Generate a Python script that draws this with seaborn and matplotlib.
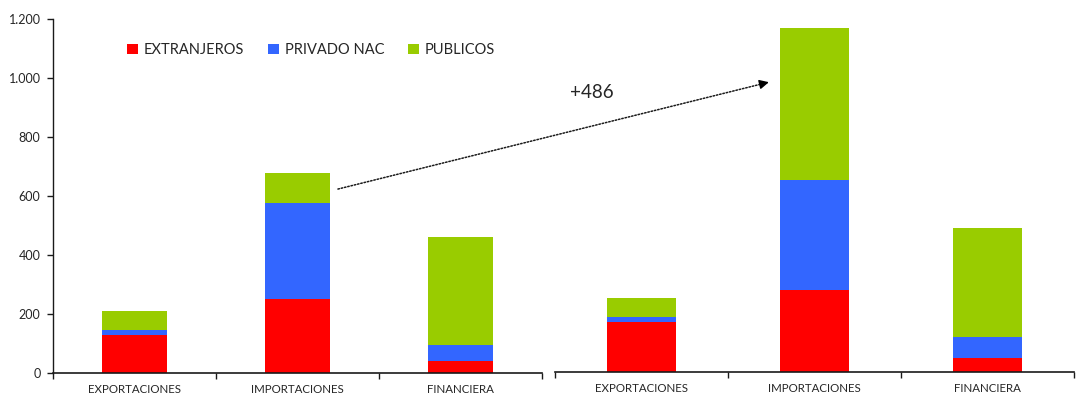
import matplotlib
matplotlib.use("Agg")
import matplotlib.pyplot as plt
from matplotlib.patches import Patch, ConnectionPatch
from matplotlib.ticker import FuncFormatter, FixedLocator
import numpy as np
import pandas as pd
import seaborn as sns

# Categories, series and colours
categorias = ["EXPORTACIONES", "IMPORTACIONES", "FINANCIERA"]
series = ["EXTRANJEROS", "PRIVADO NAC", "PUBLICOS"]
colores = ["#FF0000", "#3366FF", "#99CC00"]

# First period (left panel)
antes_extranjeros = [130, 252, 42]
antes_privado = [17, 325, 54]
antes_publicos = [64, 101, 366]

# Second period (right panel)
despues_extranjeros = [170, 278, 48]
despues_privado = [16, 372, 71]
despues_publicos = [65, 514, 369]

y_ticks = [0, 200, 400, 600, 800, 1000, 1200]
etiqueta_flecha = "+486"

sns.set_theme(style="white")
plt.rcParams["font.family"] = ["Lato", "DejaVu Sans"]

TXT = "#262626"

fig = plt.figure(figsize=(10.77, 3.99), dpi=100)
W, H = 1077, 399
ax1 = fig.add_axes([53 / W, (H - 373.3) / H, (542 - 53) / W, 354.3 / H])
ax2 = fig.add_axes([555 / W, (H - 371.7) / H, (1074 - 555) / W, 354.3 / H])


def apilar(ax, capas):
    acumulado = np.cumsum(np.array(capas, dtype=float), axis=0)
    for i in reversed(range(len(series))):
        df = pd.DataFrame({"categoria": categorias, "valor": acumulado[i]})
        sns.barplot(data=df, x="categoria", y="valor", order=categorias,
                    color=colores[i], saturation=1, width=0.4,
                    errorbar=None, ax=ax, linewidth=0)


apilar(ax1, [antes_extranjeros, antes_privado, antes_publicos])
apilar(ax2, [despues_extranjeros, despues_privado, despues_publicos])

for ax in (ax1, ax2):
    ax.set_xlim(-0.5, 2.5)
    ax.set_ylim(0, 1200)
    ax.set_xlabel("")
    ax.set_ylabel("")
    for s in ("top", "right"):
        ax.spines[s].set_visible(False)
    ax.spines["bottom"].set_color("#1a1a1a")
    ax.spines["bottom"].set_linewidth(1.2)
    ax.xaxis.set_minor_locator(FixedLocator([-0.5, 0.5, 1.5, 2.5]))
    ax.tick_params(axis="x", which="major", length=0, pad=8,
                   labelsize=8.3, labelcolor=TXT)
    ax.tick_params(axis="x", which="minor", bottom=True, length=4,
                   width=1, color="#1a1a1a", direction="out")

# Left panel y axis
ax1.spines["left"].set_color("#1a1a1a")
ax1.spines["left"].set_linewidth(1.0)
ax1.set_yticks(y_ticks)
ax1.yaxis.set_major_formatter(
    FuncFormatter(lambda v, p: f"{int(v):,}".replace(",", ".")))
ax1.tick_params(axis="y", left=True, length=4, width=1, color="#1a1a1a",
                direction="out", pad=5, labelsize=9, labelcolor=TXT)

# Right panel has no y axis
ax2.spines["left"].set_visible(False)
ax2.set_yticks([])

# Legend
handles = [Patch(facecolor=c, edgecolor="none") for c in colores]
fig.legend(handles, series, loc="center left",
           bbox_to_anchor=(127 / W, 1 - 50 / H), ncol=3, frameon=False,
           handlelength=0.75, handleheight=0.75, handletextpad=0.4,
           columnspacing=1.63, borderpad=0, borderaxespad=0,
           prop={"size": 10.5}, labelcolor=TXT)

# Dotted arrow linking the two IMPORTACIONES bars
inicio = (1.248, 624)
fin = (0.725, 979)
linea = ConnectionPatch(xyA=inicio, coordsA=ax1.transData,
                        xyB=fin, coordsB=ax2.transData,
                        arrowstyle="-", linestyle=(0, (1, 1.2)),
                        linewidth=1.1, color="#1a1a1a")
fig.add_artist(linea)
p0 = ax2.transData.transform(fin)
p1 = ax1.transData.transform(inicio)
d = (p0 - p1) / np.hypot(*(p0 - p1))
cola = p0 - d * 3
punta = ConnectionPatch(xyA=tuple(cola), coordsA="figure pixels",
                        xyB=tuple(p0 + d * 2), coordsB="figure pixels",
                        arrowstyle="-|>", mutation_scale=14,
                        linewidth=1, color="black", shrinkA=0, shrinkB=0)
fig.add_artist(punta)

fig.text(592 / W, 1 - 93 / H, etiqueta_flecha, ha="center", va="center",
         fontsize=13.5, color=TXT)

fig.savefig("out.png", dpi=100, facecolor="white")
